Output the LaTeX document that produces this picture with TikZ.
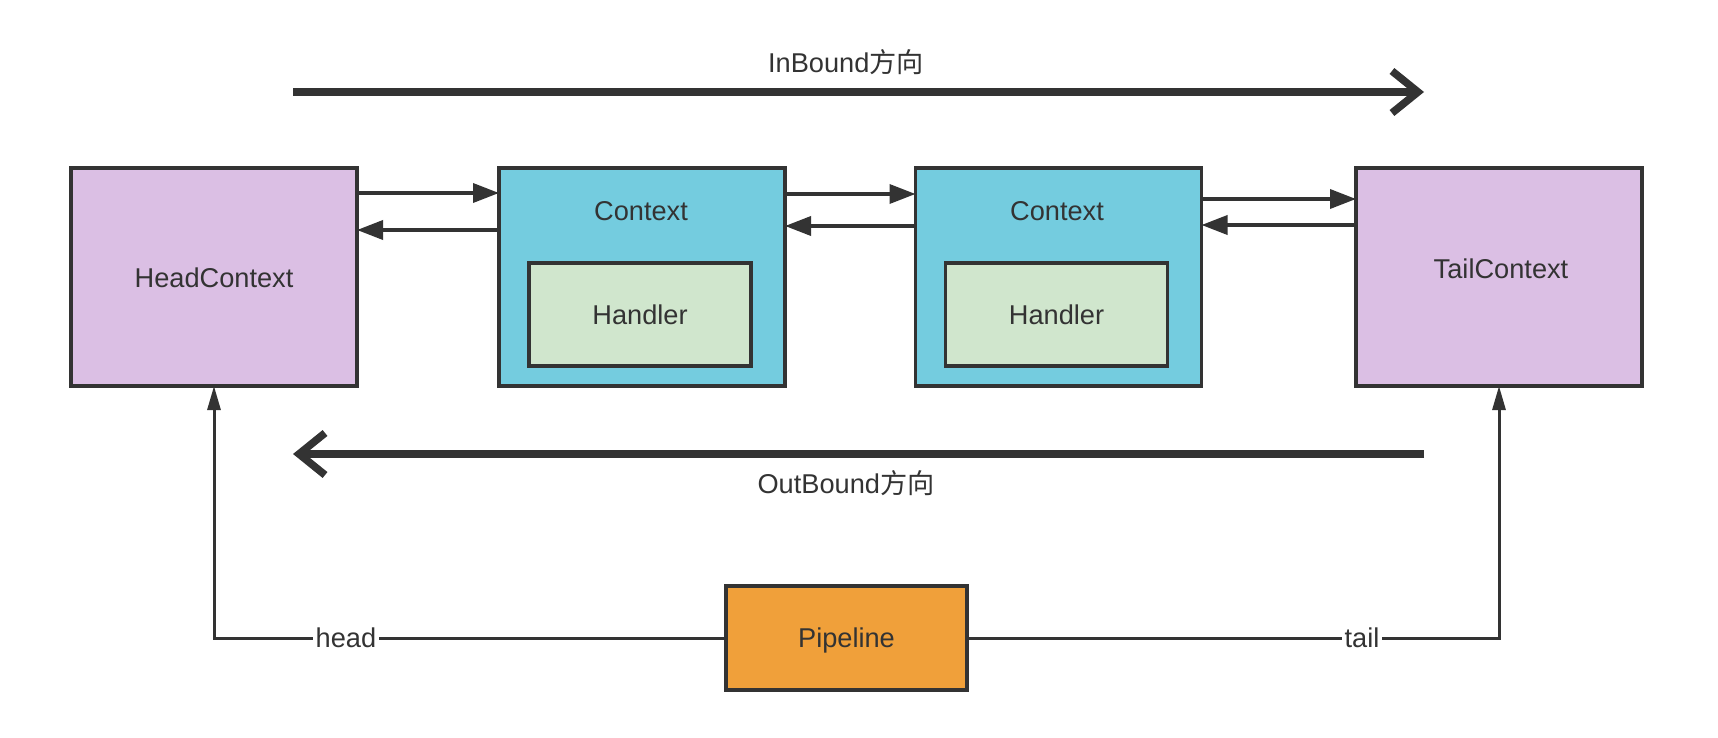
\documentclass[tikz,border=0pt]{standalone}
\usepackage{fontspec}
\setmainfont{Liberation Sans}
\newfontfamily\cjk{Noto Sans CJK SC}
\usetikzlibrary{arrows.meta}
\definecolor{ink}{HTML}{333333}
\definecolor{purp}{HTML}{DBBFE4}
\definecolor{cyanbox}{HTML}{74CCDF}
\definecolor{greenbox}{HTML}{D0E6CD}
\definecolor{orangebox}{HTML}{F0A03A}
\begin{document}
\begin{tikzpicture}[x=0.5pt,y=-0.5pt,
  every node/.style={font=\fontsize{13.6pt}{16pt}\selectfont, text=ink},
  box/.style={draw=ink, line width=1.6pt, inner sep=0pt, outer sep=0pt},
  bigbox/.style={box, minimum width=143pt, minimum height=109pt},
  smallarrow/.style={draw=ink, line width=1.8pt, -{Triangle[length=13pt,width=9.5pt]}},
  bigarrow/.style={draw=ink, line width=4pt, -{Straight Barb[length=13pt,width=21pt,line width=3.8pt]}},
  uparrow/.style={draw=ink, line width=1.5pt, -{Triangle[length=12pt,width=6.5pt]}},
  lbl/.style={fill=white, inner sep=1.5pt}
]
\useasboundingbox[fill=white] (0,0) rectangle (1718,738);

% main boxes
\node[bigbox, fill=purp] (head) at (214,277) {};
\node[bigbox, fill=cyanbox] (c1) at (642,277) {};
\node[bigbox, fill=cyanbox] (c2) at (1058.5,277) {};
\node[bigbox, fill=purp] (tail) at (1499,277) {};
\node[box, fill=greenbox, minimum width=111pt, minimum height=51.5pt] (h1) at (640,314.5) {Handler};
\node[box, fill=greenbox, minimum width=111pt, minimum height=51.5pt] (h2) at (1056.5,314.5) {Handler};
\node (c1t) at (641,211) {Context};
\node (c2t) at (1057,211) {Context};
\node (headt) at (214,278) {HeadContext};
\node (tailt) at (1501,269) {TailContext};
\node[box, fill=orangebox, minimum width=120.5pt, minimum height=52pt, text depth=0pt] (pipe) at (846.5,638) {Pipeline};

% direction arrows
\coordinate (inS) at (293,92);
\coordinate (inE) at (1424,92);
\draw[bigarrow] (inS) -- (inE);
\node (inT) at (846,62) {InBound{\cjk 方向}};
\coordinate (outS) at (1424,454);
\coordinate (outE) at (293,454);
\draw[bigarrow] (outS) -- (outE);
\node (outT) at (846,483) {OutBound{\cjk 方向}};

% links between contexts
\draw[smallarrow] (head.east |- 0,193) -- (c1.west |- 0,193);
\draw[smallarrow] (c1.west |- 0,230) -- (head.east |- 0,230);
\draw[smallarrow] (c1.east |- 0,194) -- (c2.west |- 0,194);
\draw[smallarrow] (c2.west |- 0,226) -- (c1.east |- 0,226);
\draw[smallarrow] (c2.east |- 0,199) -- (tail.west |- 0,199);
\draw[smallarrow] (tail.west |- 0,225) -- (c2.east |- 0,225);

% pipeline references
\draw[uparrow] (pipe.west) -- (head.south |- pipe.west) -- (head.south);
\draw[uparrow] (pipe.east) -- (tail.south |- pipe.east) -- (tail.south);
\node[lbl] (headl) at (346,638) {head};
\node[lbl] (taill) at (1362,638) {tail};
\end{tikzpicture}
\end{document}
